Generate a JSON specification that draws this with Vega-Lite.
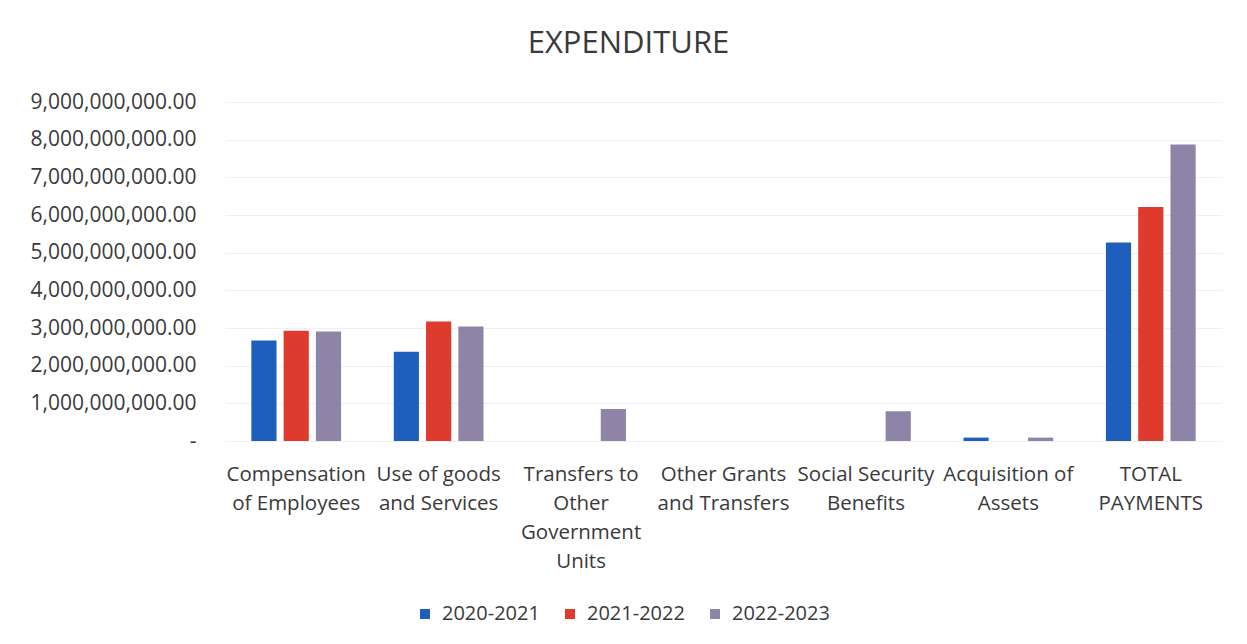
{
  "$schema": "https://vega.github.io/schema/vega-lite/v6.json",
  "autosize": "none",
  "width": 997,
  "height": 339,
  "padding": {"left": 225, "top": 102, "right": 25, "bottom": 203},
  "background": "white",
  "title": {
    "text": "EXPENDITURE",
    "fontSize": 31,
    "font": "Open Sans",
    "fontWeight": "normal",
    "color": "#3a3a3a",
    "anchor": "middle",
    "dx": -95,
    "offset": 31
  },
  "config": {
    "view": {"stroke": null},
    "font": "Open Sans"
  },
  "data": {
    "values": [
      {"category": "Compensation\nof Employees", "year": "2020-2021", "amount": 2670000000},
      {"category": "Compensation\nof Employees", "year": "2021-2022", "amount": 2930000000},
      {"category": "Compensation\nof Employees", "year": "2022-2023", "amount": 2910000000},
      {"category": "Use of goods\nand Services", "year": "2020-2021", "amount": 2370000000},
      {"category": "Use of goods\nand Services", "year": "2021-2022", "amount": 3170000000},
      {"category": "Use of goods\nand Services", "year": "2022-2023", "amount": 3040000000},
      {"category": "Transfers to\nOther\nGovernment\nUnits", "year": "2020-2021", "amount": 0},
      {"category": "Transfers to\nOther\nGovernment\nUnits", "year": "2021-2022", "amount": 0},
      {"category": "Transfers to\nOther\nGovernment\nUnits", "year": "2022-2023", "amount": 850000000},
      {"category": "Other Grants\nand Transfers", "year": "2020-2021", "amount": 0},
      {"category": "Other Grants\nand Transfers", "year": "2021-2022", "amount": 0},
      {"category": "Other Grants\nand Transfers", "year": "2022-2023", "amount": 0},
      {"category": "Social Security\nBenefits", "year": "2020-2021", "amount": 0},
      {"category": "Social Security\nBenefits", "year": "2021-2022", "amount": 0},
      {"category": "Social Security\nBenefits", "year": "2022-2023", "amount": 790000000},
      {"category": "Acquisition of\nAssets", "year": "2020-2021", "amount": 90000000},
      {"category": "Acquisition of\nAssets", "year": "2021-2022", "amount": 0},
      {"category": "Acquisition of\nAssets", "year": "2022-2023", "amount": 90000000},
      {"category": "TOTAL\nPAYMENTS", "year": "2020-2021", "amount": 5270000000},
      {"category": "TOTAL\nPAYMENTS", "year": "2021-2022", "amount": 6210000000},
      {"category": "TOTAL\nPAYMENTS", "year": "2022-2023", "amount": 7870000000}
    ]
  },
  "mark": {"type": "bar"},
  "encoding": {
    "x": {
      "field": "category",
      "type": "nominal",
      "sort": null,
      "scale": {"paddingInner": 0.37, "paddingOuter": 0.185},
      "axis": {
        "title": null,
        "labelAngle": 0,
        "labelExpr": "split(datum.label, '\\n')",
        "labelFontSize": 20.5,
        "labelColor": "#3a3a3a",
        "labelLineHeight": 29,
        "labelPadding": 39,
        "labelBaseline": "alphabetic",
        "labelLimit": 0,
        "domain": false,
        "ticks": false
      }
    },
    "xOffset": {
      "field": "year",
      "type": "nominal",
      "scale": {"paddingInner": 0.22}
    },
    "y": {
      "field": "amount",
      "type": "quantitative",
      "scale": {"domain": [0, 9000000000]},
      "axis": {
        "title": null,
        "values": [0, 1000000000, 2000000000, 3000000000, 4000000000, 5000000000, 6000000000, 7000000000, 8000000000, 9000000000],
        "labelExpr": "datum.value == 0 ? '-\u00a0\u00a0\u00a0' : format(datum.value, ',.2f')",
        "labelFontSize": 21,
        "labelColor": "#3a3a3a",
        "labelPadding": 29,
        "domain": false,
        "ticks": false,
        "gridColor": "#f0f0f4",
        "gridWidth": 1
      }
    },
    "color": {
      "field": "year",
      "type": "nominal",
      "scale": {
        "domain": ["2020-2021", "2021-2022", "2022-2023"],
        "range": ["#1e5fbe", "#df3a2e", "#8d84a8"]
      },
      "legend": {
        "title": null,
        "orient": "none",
        "direction": "horizontal",
        "legendX": 190,
        "legendY": 502,
        "symbolType": "square",
        "symbolSize": 100,
        "labelFontSize": 20,
        "labelColor": "#3a3a3a",
        "columnPadding": 20,
        "labelOffset": 7
      }
    }
  }
}
